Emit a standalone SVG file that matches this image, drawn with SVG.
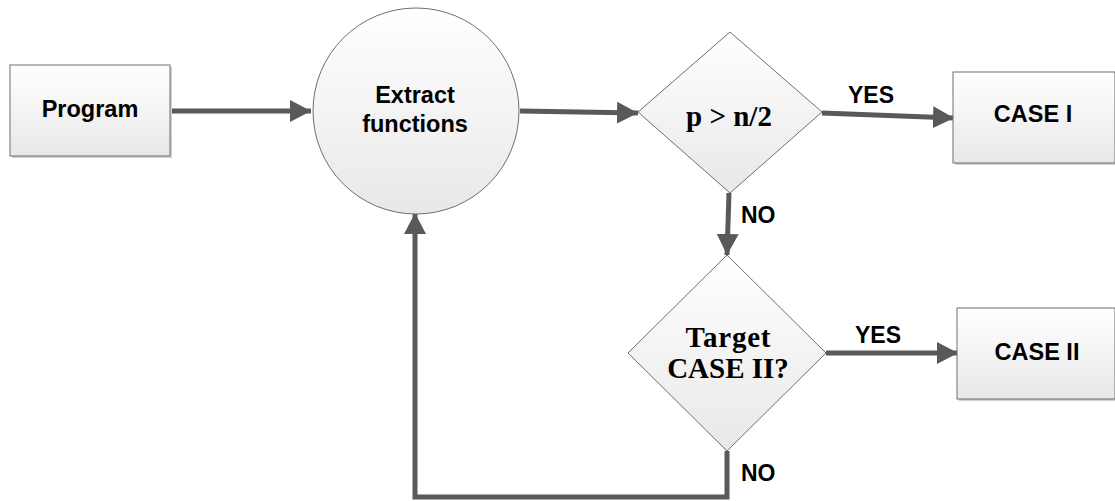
<svg xmlns="http://www.w3.org/2000/svg" width="1115" height="501" viewBox="0 0 1115 501">
  <style>
    .node { stroke: #6e6e6e; stroke-width: 1; fill: url(#nodeFill); }
    .shadow { fill: #d0d0d0; }
    .label { font-family: "Liberation Sans", Arial, sans-serif; font-weight: bold; font-size: 23.5px; fill: #000; text-anchor: middle; }
    .cond { font-family: "Liberation Serif", "Times New Roman", serif; font-weight: bold; font-size: 29px; fill: #000; text-anchor: middle; }
    .edge { font-family: "Liberation Sans", Arial, sans-serif; font-weight: bold; font-size: 23px; fill: #000; }
    .conn { stroke: #595959; stroke-width: 5; fill: none; }
  </style>
  <defs>
    <linearGradient id="nodeFill" x1="0" y1="0" x2="0" y2="1">
      <stop offset="0" stop-color="#ffffff"/>
      <stop offset="1" stop-color="#e8e8e8"/>
    </linearGradient>
    <marker id="arrow" markerUnits="userSpaceOnUse" markerWidth="22" markerHeight="24" refX="21" refY="12" orient="auto">
      <path d="M0,1 L21,12 L0,23 Z" fill="#595959"/>
    </marker>
  </defs>
  <rect width="1115" height="501" fill="#ffffff"/>

  <g id="connectors">
    <line class="conn" x1="171" y1="111" x2="311" y2="111" marker-end="url(#arrow)"/>
    <line class="conn" x1="520" y1="111" x2="638" y2="113" marker-end="url(#arrow)"/>
    <line class="conn" x1="822" y1="113" x2="954" y2="118" marker-end="url(#arrow)"/>
    <line class="conn" x1="729" y1="193" x2="727" y2="255" marker-end="url(#arrow)"/>
    <line class="conn" x1="826" y1="353" x2="958" y2="353" marker-end="url(#arrow)"/>
    <polyline class="conn" points="727,451 727,497 415,497 415,213" marker-end="url(#arrow)"/>
    <text class="edge" x="871" y="103" text-anchor="middle">YES</text>
    <text class="edge" x="741" y="223">NO</text>
    <text class="edge" x="878" y="343" text-anchor="middle">YES</text>
    <text class="edge" x="741" y="481">NO</text>
  </g>

  <g id="program">
    <rect class="shadow" x="12" y="67" width="160" height="91"/>
    <rect class="node" x="10" y="65" width="160" height="91"/>
    <text class="label" x="90" y="117">Program</text>
  </g>

  <g id="extract">
    <circle class="node" cx="416" cy="111" r="103"/>
    <text class="label" x="415" y="103" font-size="25.5">Extract</text>
    <text class="label" x="415" y="132" font-size="25.5">functions</text>
  </g>

  <g id="decision-half">
    <polygon class="node" points="730,32 822,112 730,193 638,112"/>
    <text class="cond" x="729" y="126">p &gt; n/2</text>
  </g>

  <g id="case-1">
    <rect class="shadow" x="955" y="74" width="162" height="91"/>
    <rect class="node" x="953" y="72" width="162" height="91"/>
    <text class="label" x="1033" y="122">CASE I</text>
  </g>

  <g id="decision-target">
    <polygon class="node" points="727,255 826,353 727,451 628,353"/>
    <text class="cond" x="728" y="347" textLength="85" lengthAdjust="spacing">Target</text>
    <text class="cond" x="728" y="378">CASE II?</text>
  </g>

  <g id="case-2">
    <rect class="shadow" x="959" y="310" width="158" height="91"/>
    <rect class="node" x="957" y="308" width="158" height="91"/>
    <text class="label" x="1037" y="360">CASE II</text>
  </g>
</svg>
